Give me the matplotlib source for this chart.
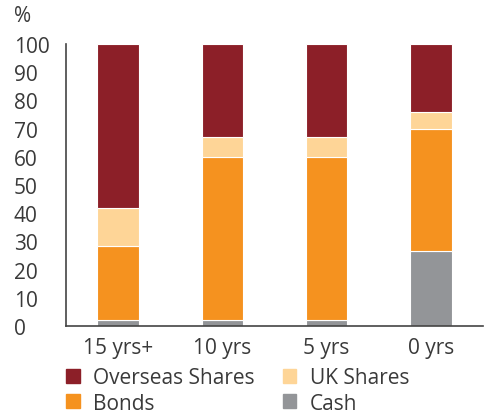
import matplotlib
matplotlib.use("Agg")
import matplotlib.pyplot as plt
from matplotlib.patches import Patch
import numpy as np

categories = ["15 yrs+", "10 yrs", "5 yrs", "0 yrs"]
cash = [2.0, 2.0, 2.0, 26.5]
bonds = [26.5, 58.0, 58.0, 43.5]
uk_shares = [13.5, 7.0, 7.0, 6.0]
overseas = [58.0, 33.0, 33.0, 24.0]
yticks = [0, 10, 20, 30, 40, 50, 60, 70, 80, 90, 100]

c_over = "#8C1F28"
c_uk = "#FED597"
c_bonds = "#F5921F"
c_cash = "#939598"
text_c = "#3a3a3a"

plt.rcParams['font.family'] = ['Open Sans', 'DejaVu Sans']
fs = 15

fig = plt.figure(figsize=(4.86, 4.14), dpi=100)
ax = fig.add_axes([66/486, 1-327/414, (483-66)/486, (327-45)/414])

x = np.arange(len(categories))
w = 0.40
bottom = np.zeros(len(categories))
for vals, col in [(cash, c_cash), (bonds, c_bonds), (uk_shares, c_uk), (overseas, c_over)]:
    ax.bar(x, vals, w, bottom=bottom, color=col, edgecolor="white", linewidth=0.8)
    bottom += np.array(vals)

ax.set_xlim(-0.5, 3.5)
ax.set_ylim(0, 100)
ax.set_yticks(yticks)
ax.set_xticks(x)
ax.set_xticklabels(categories)
for s in ["top", "right"]:
    ax.spines[s].set_visible(False)
for s in ["left", "bottom"]:
    ax.spines[s].set_color("#444444")
    ax.spines[s].set_linewidth(1.2)
ax.tick_params(axis='y', length=0, pad=37.5, labelsize=fs, labelcolor=text_c)
ax.tick_params(axis='x', length=0, pad=8, labelsize=fs, labelcolor=text_c)
for lab in ax.get_yticklabels():
    lab.set_ha('left')

fig.text(14/486, 1-17/414, "%", fontsize=fs, color=text_c, ha='left', va='center')

handles = [Patch(color=c_over, label="Overseas Shares"),
           Patch(color=c_bonds, label="Bonds"),
           Patch(color=c_uk, label="UK Shares"),
           Patch(color=c_cash, label="Cash")]
leg = fig.legend(handles=handles, ncol=2, loc='upper left',
                 bbox_to_anchor=(66/486, 1-368/414), frameon=False,
                 fontsize=fs, handlelength=0.65, handleheight=0.65,
                 handletextpad=0.65, columnspacing=1.35, labelspacing=0.22,
                 borderaxespad=0, borderpad=0)
for t in leg.get_texts():
    t.set_color(text_c)

fig.savefig("out.png", dpi=100)
